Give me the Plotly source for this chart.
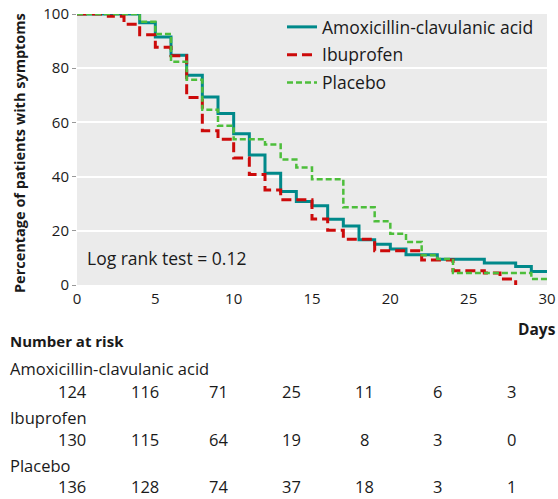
import plotly.graph_objects as go

# ---------------- data ----------------
amox_days = [0, 4, 5, 6, 7, 8, 9, 10, 11, 12, 13, 14, 15, 16, 17, 18, 19, 20, 21, 23, 26, 28, 29, 30]
amox_pct = [100, 96.8, 91.5, 84.8, 77.4, 69.4, 63.3, 55.8, 48.0, 41.2, 34.5, 30.8, 29.2, 24.3, 21.8, 16.7, 15.0, 13.3, 11.2, 9.5, 8.1, 6.8, 5.0, 5.0]

ibu_days = [0, 2, 3, 4, 5, 6, 7, 8, 9, 10, 11, 12, 13, 15, 16, 17, 19, 22, 24, 26, 27, 28]
ibu_pct = [100, 99.2, 96.2, 92.3, 87.7, 84.6, 69.2, 56.9, 53.8, 46.9, 40.8, 35.1, 31.5, 24.4, 20.2, 16.9, 12.6, 9.2, 5.3, 4.4, 2.2, 0]

plac_days = [0, 4, 5, 6, 7, 8, 9, 10, 12, 13, 14, 15, 17, 19, 20, 21, 22, 23, 24, 29, 30]
plac_pct = [100, 97.1, 92.6, 82.4, 75.7, 64.7, 58.8, 53.8, 51.8, 46.3, 43.4, 39.0, 28.7, 23.5, 18.9, 15.9, 11.0, 9.6, 4.4, 2.2, 2.2]

series_names = ["Amoxicillin-clavulanic acid", "Ibuprofen", "Placebo"]
x_ticks = [0, 5, 10, 15, 20, 25, 30]
y_ticks = [0, 20, 40, 60, 80, 100]

risk_days = [0, 5, 10, 15, 20, 25, 30]
risk_amox = [124, 116, 71, 25, 11, 6, 3]
risk_ibu = [130, 115, 64, 19, 8, 3, 0]
risk_plac = [136, 128, 74, 37, 18, 3, 1]

log_rank_text = "Log rank test = 0.12"

# ---------------- layout geometry ----------------
W, H = 558, 499
L, R, T, B = 77, 11, 14, 214
PW, PH = W - L - R, H - T - B
FONT = "Open Sans"
TXT = "#1a1a1a"


def px(xpix):
    return (xpix - L) / PW


def py(ypix):
    return 1 - (ypix - T) / PH


def table_x(day):
    return px(72 + day * (511 - 72) / 30)


fig = go.Figure()
styles = [
    dict(color="#00898A", width=3, dash="solid"),
    dict(color="#CC0A0A", width=3, dash="10px,5px"),
    dict(color="#4DBE3B", width=2.5, dash="6px,3px"),
]
for i, (xs, ys) in enumerate([(amox_days, amox_pct), (ibu_days, ibu_pct), (plac_days, plac_pct)]):
    fig.add_trace(go.Scatter(
        x=xs, y=ys, mode="lines", line_shape="hv", name=series_names[i],
        line=styles[i], legendgroup=str(i),
    ))

ann = []
ann.append(dict(text=log_rank_text, x=px(86), y=py(258), xref="paper", yref="paper",
                xanchor="left", yanchor="middle", showarrow=False, borderpad=0,
                font=dict(size=17.5, color=TXT, family=FONT)))
ann.append(dict(text="<b>Percentage of patients with symptoms</b>", x=px(19), y=py(153),
                xref="paper", yref="paper", xanchor="center", yanchor="middle", borderpad=0,
                textangle=-90, showarrow=False, font=dict(size=14.5, color=TXT, family=FONT)))
ann.append(dict(text="<b>Days</b>", x=px(557), y=py(329), xref="paper", yref="paper",
                xanchor="right", yanchor="middle", showarrow=False, borderpad=0,
                font=dict(size=15.5, color=TXT, family=FONT)))
ann.append(dict(text="<b>Number at risk</b>", x=px(9), y=py(341), xref="paper", yref="paper",
                xanchor="left", yanchor="middle", showarrow=False, borderpad=0,
                font=dict(size=15, color=TXT, family=FONT)))

rows = [(series_names[0], risk_amox, 368, 391),
        (series_names[1], risk_ibu, 417, 439),
        (series_names[2], risk_plac, 465, 486)]
for label, vals, ylab, ynum in rows:
    ann.append(dict(text=label, x=px(9), y=py(ylab), xref="paper", yref="paper",
                    xanchor="left", yanchor="middle", showarrow=False, borderpad=0,
                    font=dict(size=16.5, color=TXT, family=FONT)))
    for d, v in zip(risk_days, vals):
        ann.append(dict(text=str(v), x=table_x(d), y=py(ynum), xref="paper", yref="paper",
                        xanchor="center", yanchor="middle", showarrow=False, borderpad=0,
                        font=dict(size=16.5, color=TXT, family=FONT)))

fig.update_layout(
    width=W, height=H,
    margin=dict(l=L, r=R, t=T, b=B, pad=0, autoexpand=False),
    paper_bgcolor="white", plot_bgcolor="#EBEBEB",
    font=dict(family=FONT, size=15, color=TXT),
    showlegend=True,
    legend=dict(x=px(282), y=py(9), xanchor="left", yanchor="top",
                bgcolor="rgba(0,0,0,0)", font=dict(size=17.5, family=FONT, color=TXT),
                tracegroupgap=2, itemwidth=30),
    annotations=ann,
    xaxis=dict(range=[0, 30], tickvals=x_ticks, showgrid=False, zeroline=False,
               ticks="outside", ticklen=0, tickfont=dict(size=15, color=TXT),
               showline=False, fixedrange=True, automargin=False),
    yaxis=dict(range=[0, 100], tickvals=y_ticks, showgrid=True, gridcolor="white",
               gridwidth=1.5, zeroline=False, ticks="outside", ticklen=4,
               tickcolor="#999999", tickfont=dict(size=15, color=TXT), showline=False,
               fixedrange=True, automargin=False),
)

fig.write_html("out.html", config={"displayModeBar": False},
               post_script="document.body.style.margin='0';")
